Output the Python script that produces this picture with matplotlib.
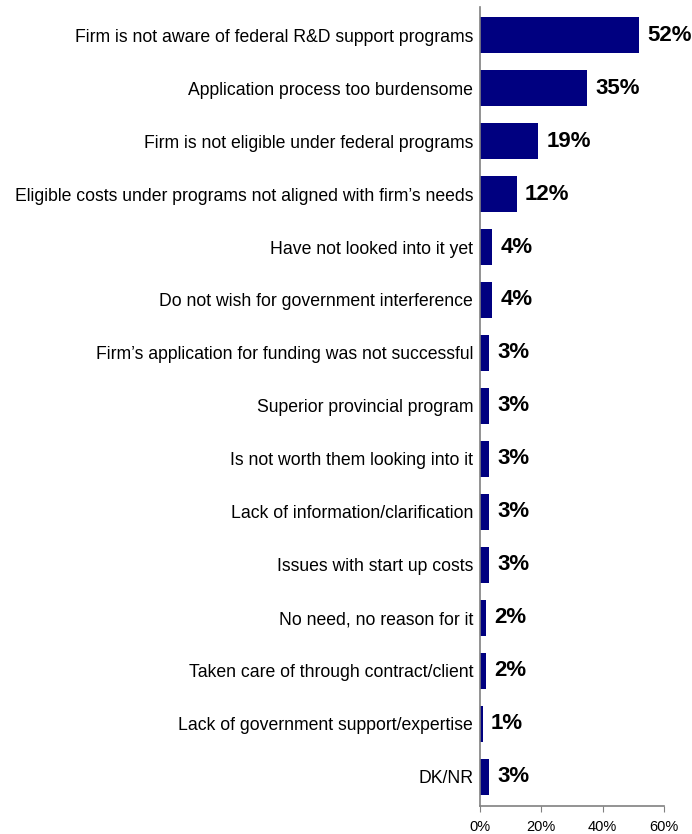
import matplotlib.pyplot as plt
from matplotlib.ticker import FuncFormatter

# reasons for not using federal R&D support programs (% of firms)
reasons = [
    "Firm is not aware of federal R&D support programs",
    "Application process too burdensome",
    "Firm is not eligible under federal programs",
    "Eligible costs under programs not aligned with firm\u2019s needs",
    "Have not looked into it yet",
    "Do not wish for government interference",
    "Firm\u2019s application for funding was not successful",
    "Superior provincial program",
    "Is not worth them looking into it",
    "Lack of information/clarification",
    "Issues with start up costs",
    "No need, no reason for it",
    "Taken care of through contract/client",
    "Lack of government support/expertise",
    "DK/NR",
]
percents = [52, 35, 19, 12, 4, 4, 3, 3, 3, 3, 3, 2, 2, 1, 3]
xticks = [0, 20, 40, 60]

plt.rcParams['font.family'] = ['Liberation Sans', 'DejaVu Sans']

fig = plt.figure(figsize=(6.92, 8.34), dpi=100)
ax = fig.add_axes([0.6936, 0.0336, 0.9595 - 0.6936, 0.9916 - 0.0336])

pos = range(len(reasons))
ax.barh(pos, percents, height=0.68, color='#000080')

for i, v in enumerate(percents):
    ax.text(v + 2.6, i, f"{v}%", va='center', ha='left',
            fontsize=16, fontweight='bold', color='black')

ax.set_yticks(list(pos))
ax.set_yticklabels(reasons, fontsize=12.7)
ax.tick_params(axis='y', length=0, pad=5)
ax.set_ylim(14.55, -0.53)

ax.set_xlim(0, 60)
ax.set_xticks(xticks)
ax.xaxis.set_major_formatter(FuncFormatter(lambda x, p: f"{x:.0f}%"))
ax.tick_params(axis='x', length=4, color='#808080', labelsize=10.5, pad=6)

for side in ['top', 'right']:
    ax.spines[side].set_visible(False)
for side in ['left', 'bottom']:
    ax.spines[side].set_color('#808080')
    ax.spines[side].set_linewidth(1.2)

fig.savefig('out.png', dpi=100)
